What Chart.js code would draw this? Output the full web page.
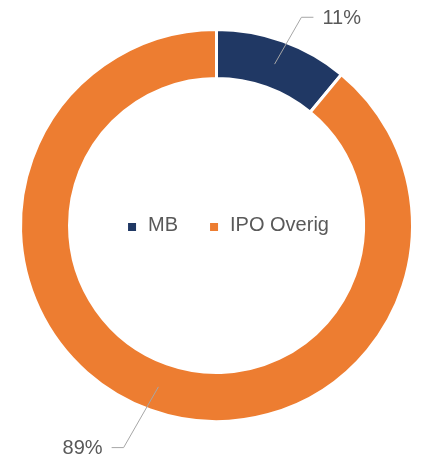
<!DOCTYPE html>
<html>
<head>
<meta charset="utf-8">
<script src="https://cdn.jsdelivr.net/npm/chart.js@4/dist/chart.umd.min.js"></script>
<style>
  html, body { margin: 0; padding: 0; background: #fff; }
  #wrap { width: 428px; height: 462px; position: relative; }
</style>
</head>
<body>
<div id="wrap"><canvas id="donut"></canvas></div>
<script>
const categories = ['MB', 'IPO Overig'];
const shares = [11, 89];
const sliceColors = ['#203864', '#ED7D31'];

const textColor = '#595959';
const labelFont = '20px "Liberation Sans", Arial, sans-serif';

// leader line length per slice (px) and extra tilt
const leaderLen = [54, 70];
const leaderTilt = 10 * Math.PI / 180;

const outsideLabels = {
  id: 'outsideLabels',
  afterDatasetsDraw(chart) {
    const ctx = chart.ctx;
    const meta = chart.getDatasetMeta(0);
    ctx.save();
    ctx.font = labelFont;
    ctx.fillStyle = textColor;
    ctx.textBaseline = 'middle';
    meta.data.forEach((arc, i) => {
      const p = arc.getProps(['x', 'y', 'startAngle', 'endAngle', 'innerRadius', 'outerRadius'], true);
      const mid = (p.startAngle + p.endAngle) / 2;
      const rMid = (p.innerRadius + p.outerRadius) / 2;
      const x0 = p.x + Math.cos(mid) * rMid;
      const y0 = p.y + Math.sin(mid) * rMid;
      const dir = mid + leaderTilt;
      const x1 = x0 + Math.cos(dir) * leaderLen[i];
      const y1 = y0 + Math.sin(dir) * leaderLen[i];
      const side = Math.cos(mid) >= 0 ? 1 : -1;
      const x2 = x1 + side * 12;
      ctx.strokeStyle = '#A6A6A6';
      ctx.lineWidth = 1;
      ctx.beginPath();
      ctx.moveTo(x0, y0);
      ctx.lineTo(x1, y1);
      ctx.lineTo(x2, y1);
      ctx.stroke();
      ctx.textAlign = side > 0 ? 'left' : 'right';
      ctx.fillText(shares[i] + '%', x2 + side * 9, y1 + 1);
    });
    ctx.restore();
  }
};

const centerLegend = {
  id: 'centerLegend',
  afterDraw(chart) {
    const ctx = chart.ctx;
    const meta = chart.getDatasetMeta(0);
    const cx = meta.data[0].x + 12;
    const cy = meta.data[0].y;
    const box = 8, boxGap = 12, itemGap = 32;
    ctx.save();
    ctx.font = labelFont;
    ctx.textBaseline = 'middle';
    ctx.textAlign = 'left';
    const widths = categories.map(c => ctx.measureText(c).width);
    let total = 0;
    widths.forEach((w, i) => { total += box + boxGap + w + (i < widths.length - 1 ? itemGap : 0); });
    let x = cx - total / 2;
    categories.forEach((c, i) => {
      ctx.fillStyle = sliceColors[i];
      ctx.fillRect(x, cy + 1.5 - box / 2, box, box);
      x += box + boxGap;
      ctx.fillStyle = textColor;
      ctx.fillText(c, x, cy);
      x += widths[i] + itemGap;
    });
    ctx.restore();
  }
};

new Chart(document.getElementById('donut'), {
  type: 'doughnut',
  data: {
    labels: categories,
    datasets: [{
      data: shares,
      backgroundColor: sliceColors,
      borderColor: '#ffffff',
      borderWidth: 3
    }]
  },
  options: {
    responsive: true,
    maintainAspectRatio: false,
    animation: false,
    cutout: '75%',
    layout: { padding: { left: 19, right: 14, top: 28, bottom: 39 } },
    plugins: {
      legend: { display: false },
      tooltip: { enabled: false }
    }
  },
  plugins: [outsideLabels, centerLegend]
});
</script>
</body>
</html>
